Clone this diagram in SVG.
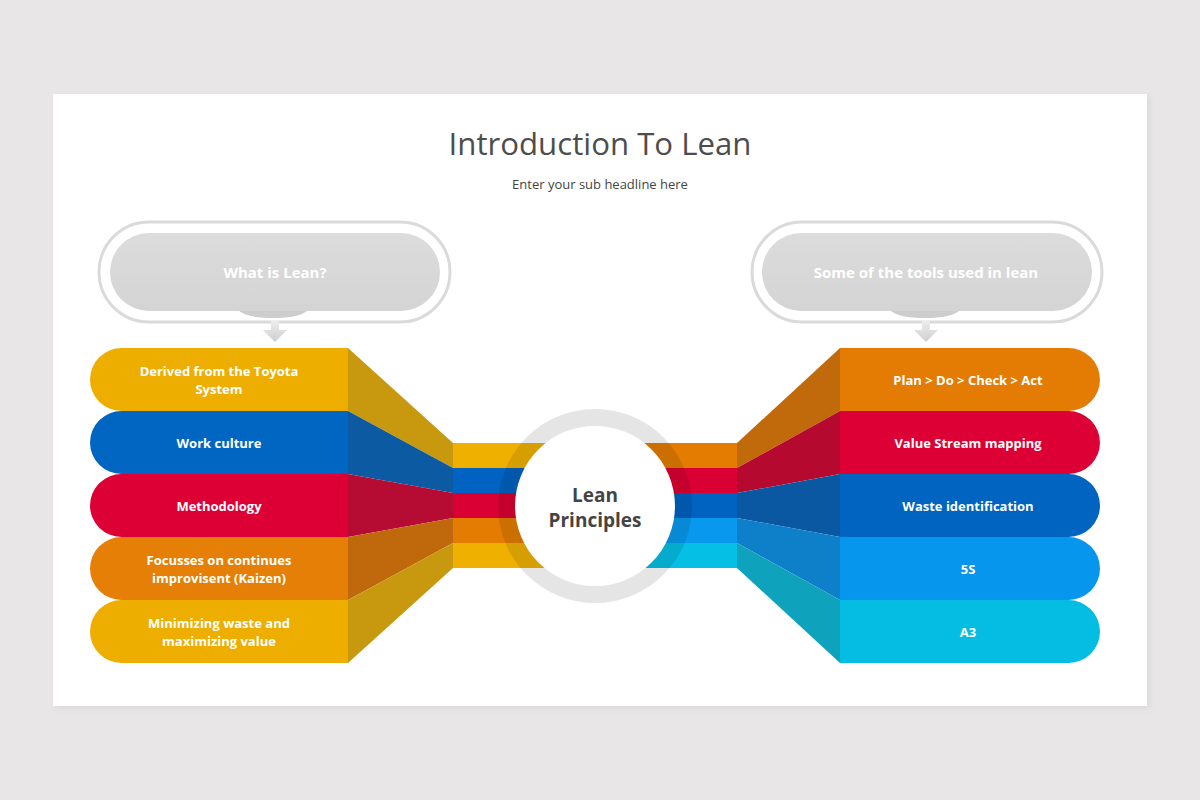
<svg xmlns="http://www.w3.org/2000/svg" width="1200" height="800" viewBox="0 0 1200 800">
<defs>
<style>
.t{font-family:"Open Sans","Liberation Sans",sans-serif;}
.bt{font-family:"Open Sans","Liberation Sans",sans-serif;font-weight:700;font-size:13px;fill:#fff;text-anchor:middle;}
.pt{font-family:"Open Sans","Liberation Sans",sans-serif;font-weight:700;font-size:15px;fill:#fff;text-anchor:middle;}
.outer{fill:#fff;stroke:#dadada;stroke-width:3;}
.inner{fill:url(#pg);}
</style>
<linearGradient id="pg" x1="0" y1="0" x2="0" y2="1">
<stop offset="0" stop-color="#dcdcdc"/><stop offset="1" stop-color="#d4d4d4"/>
</linearGradient>
<linearGradient id="ag" x1="0" y1="0" x2="0" y2="1">
<stop offset="0" stop-color="#eeeeee"/><stop offset="1" stop-color="#cfcfcf"/>
</linearGradient>
<filter id="sh" x="-5%" y="-5%" width="110%" height="110%">
<feGaussianBlur stdDeviation="3"/>
</filter>
</defs>
<rect width="1200" height="800" fill="#e8e6e7"/>
<rect x="55" y="96" width="1094" height="612" fill="#d8d6d7" filter="url(#sh)"/>
<rect x="53" y="94" width="1094" height="612" fill="#fff"/>

<text class="t" x="600" y="155" font-size="31.2" fill="#4d4d4d" text-anchor="middle">Introduction To Lean</text>
<text class="t" x="600" y="189" font-size="13" fill="#444" text-anchor="middle">Enter your sub headline here</text>

<g id="what-is-lean">
<rect class="outer" x="99" y="222" width="351" height="100" rx="50"/>
<path d="M238,310 H308 Q300,318 273,318 Q246,318 238,310 Z" fill="#b8b8b8" opacity="0.7"/>
<rect class="inner" x="110" y="233" width="330" height="78" rx="39"/>
<text class="pt" x="275" y="278">What is Lean?</text>
<path d="M271,320 H279 V330 H287 L275,342 L263,330 H271 Z" fill="url(#ag)"/>
</g>

<g id="tools-in-lean">
<rect class="outer" x="752" y="222" width="350" height="100" rx="50"/>
<path d="M890,310 H960 Q952,318 925,318 Q898,318 890,310 Z" fill="#b8b8b8" opacity="0.7"/>
<rect class="inner" x="762" y="233" width="330" height="78" rx="39"/>
<text class="pt" x="926" y="278">Some of the tools used in lean</text>
<path d="M922,320 H930 V330 H938 L926,342 L914,330 H922 Z" fill="url(#ag)"/>
</g>

<g id="connectors">
<rect x="453" y="443" width="150" height="25" fill="#efb000"/>
<rect x="453" y="468" width="150" height="25" fill="#0063c1"/>
<rect x="453" y="493" width="150" height="25" fill="#db0033"/>
<rect x="453" y="518" width="150" height="25" fill="#e47c02"/>
<rect x="453" y="543" width="150" height="25" fill="#efb000"/>
<rect x="588" y="443" width="149" height="25" fill="#e47c02"/>
<rect x="588" y="468" width="149" height="25" fill="#db0033"/>
<rect x="588" y="493" width="149" height="25" fill="#0063c1"/>
<rect x="588" y="518" width="149" height="25" fill="#0899ee"/>
<rect x="588" y="543" width="149" height="25" fill="#06bfe4"/>
<polygon points="348,348 453,443 453,468 348,411" fill="#c8990f"/>
<polygon points="348,411 453,468 453,493 348,474" fill="#0b5aa2"/>
<polygon points="348,474 453,493 453,518 348,537" fill="#b60b33"/>
<polygon points="348,537 453,518 453,543 348,600" fill="#c0680c"/>
<polygon points="348,600 453,543 453,568 348,663" fill="#c8990f"/>
<polygon points="840,348 737,443 737,468 840,411" fill="#c06a0b"/>
<polygon points="840,411 737,468 737,493 840,474" fill="#b6092f"/>
<polygon points="840,474 737,493 737,518 840,537" fill="#0a58a2"/>
<polygon points="840,537 737,518 737,543 840,600" fill="#0d80c9"/>
<polygon points="840,600 737,543 737,568 840,663" fill="#0fa2bd"/>
</g>

<g id="center">
<circle cx="595" cy="506" r="80" fill="#fff"/>
<circle cx="595" cy="506" r="88.5" fill="none" stroke="#000" stroke-opacity="0.1" stroke-width="17"/>
<text class="t" x="595" y="502" font-size="19" font-weight="700" fill="#444" text-anchor="middle">Lean</text>
<text class="t" x="595" y="527" font-size="19" font-weight="700" fill="#444" text-anchor="middle">Principles</text>
</g>

<g id="left-1">
<path d="M348,348 H121.5 A31.5,31.5 0 0 0 121.5,411 H348 Z" fill="#eeae00"/>
<text class="bt" x="219" y="376">Derived from the Toyota</text>
<text class="bt" x="219" y="394">System</text>
</g>
<g id="left-2">
<path d="M348,411 H121.5 A31.5,31.5 0 0 0 121.5,474 H348 Z" fill="#0066c2"/>
<text class="bt" x="219" y="448">Work culture</text>
</g>
<g id="left-3">
<path d="M348,474 H121.5 A31.5,31.5 0 0 0 121.5,537 H348 Z" fill="#dc0035"/>
<text class="bt" x="219" y="511">Methodology</text>
</g>
<g id="left-4">
<path d="M348,537 H121.5 A31.5,31.5 0 0 0 121.5,600 H348 Z" fill="#e57f05"/>
<text class="bt" x="219" y="565">Focusses on continues</text>
<text class="bt" x="219" y="583">improvisent (Kaizen)</text>
</g>
<g id="left-5">
<path d="M348,600 H121.5 A31.5,31.5 0 0 0 121.5,663 H348 Z" fill="#eeae00"/>
<text class="bt" x="219" y="628">Minimizing waste and</text>
<text class="bt" x="219" y="646">maximizing value</text>
</g>

<g id="right-1">
<path d="M840,348 H1068.5 A31.5,31.5 0 0 1 1068.5,411 H840 Z" fill="#e47c03"/>
<text class="bt" x="968" y="385">Plan &gt; Do &gt; Check &gt; Act</text>
</g>
<g id="right-2">
<path d="M840,411 H1068.5 A31.5,31.5 0 0 1 1068.5,474 H840 Z" fill="#dc0035"/>
<text class="bt" x="968" y="448">Value Stream mapping</text>
</g>
<g id="right-3">
<path d="M840,474 H1068.5 A31.5,31.5 0 0 1 1068.5,537 H840 Z" fill="#0064c0"/>
<text class="bt" x="968" y="511">Waste identification</text>
</g>
<g id="right-4">
<path d="M840,537 H1068.5 A31.5,31.5 0 0 1 1068.5,600 H840 Z" fill="#0696ed"/>
<text class="bt" x="968" y="574">5S</text>
</g>
<g id="right-5">
<path d="M840,600 H1068.5 A31.5,31.5 0 0 1 1068.5,663 H840 Z" fill="#05bde3"/>
<text class="bt" x="968" y="637">A3</text>
</g>
</svg>
